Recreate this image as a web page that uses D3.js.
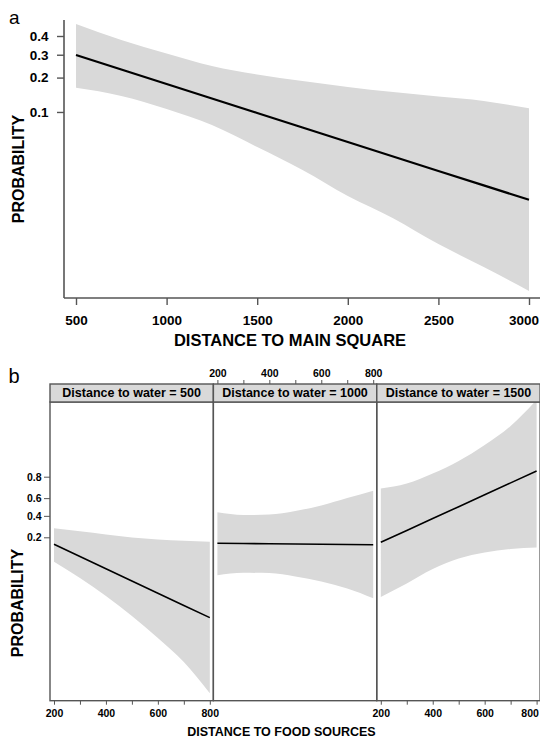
<!DOCTYPE html>
<html>
<head>
<meta charset="utf-8">
<script src="https://d3js.org/d3.v7.min.js"></script>
<style>
  body { margin: 0; background: #fff; font-family: "Liberation Sans", Arial, sans-serif; }
  .band { fill: #d9d9d9; stroke: none; }
  .fit { fill: none; stroke: #000; }
  .tick text { font-family: "Liberation Sans", Arial, sans-serif; font-weight: bold; fill: #000; }
  .tick line { stroke: #555; }
  .frame { fill: none; stroke: #555; stroke-width: 1.4; }
  .strip { fill: #d9d9d9; stroke: #555; stroke-width: 1.4; }
  .label { font-weight: bold; fill: #000; }
</style>
</head>
<body>
<script>
// ---- data (a): probability vs distance to main square
var distMain  = [500, 750, 1000, 1250, 1500, 1750, 2000, 2250, 2500, 2750, 3000];
var fitMain   = [0.299, 0.232, 0.177, 0.1325, 0.0979, 0.0716, 0.0519, 0.0374, 0.0269, 0.0193, 0.0138];
var lowerMain = [0.164, 0.1395, 0.1065, 0.0756, 0.0464, 0.0275, 0.0151, 0.0090, 0.0049, 0.00286, 0.00163];
var upperMain = [0.470, 0.378, 0.306, 0.247, 0.212, 0.1875, 0.167, 0.151, 0.138, 0.126, 0.108];
var ticksMainX = [500, 1000, 1500, 2000, 2500, 3000];
var ticksMainY = [0.1, 0.2, 0.3, 0.4];

// ---- data (b): probability vs distance to food sources, one panel per water distance
var distFood = [200, 300, 400, 500, 600, 700, 800];
var waterLevels = [500, 1000, 1500];
var fitFood = [
  [0.1536, 0.0941, 0.0558, 0.0327, 0.0190, 0.0109, 0.0063],
  [0.1596, 0.1584, 0.1566, 0.1554, 0.1541, 0.1524, 0.1512],
  [0.1658, 0.2552, 0.3714, 0.5034, 0.636, 0.7508, 0.8386]
];
var lowerFood = [
  [0.0757, 0.0374, 0.0168, 0.0068, 0.0025, 0.00083, 0.0002],
  [0.0420, 0.0469, 0.0465, 0.0399, 0.0320, 0.0234, 0.0151],
  [0.0160, 0.0293, 0.0553, 0.0865, 0.1109, 0.1276, 0.1354]
];
var upperFood = [
  [0.274, 0.2475, 0.2212, 0.1985, 0.1844, 0.1755, 0.1697],
  [0.4396, 0.4095, 0.4151, 0.4543, 0.5171, 0.6016, 0.6783],
  [0.700, 0.7457, 0.8224, 0.8914, 0.9447, 0.976, 0.9926]
];
var ticksFoodX = [200, 300, 400, 500, 600, 700, 800];
var labelsFoodX = [200, 400, 600, 800];
var ticksFoodY = [0.2, 0.4, 0.6, 0.8];

function logit(p) { return Math.log(p / (1 - p)); }

var W = 540;
var svg = d3.select("body").append("svg")
  .attr("width", W).attr("height", 738);

var axisColor = "#555";

// keep a tick label that would run past the right edge inside the picture
function pullInside(axisG) {
  axisG.selectAll(".tick text").each(function() {
    var t = d3.select(this), box = this.getBBox();
    var ctm = this.getCTM();
    var right = ctm.e + box.x + box.width;
    if (right > W - 1) {
      t.attr("x", (+t.attr("x") || 0) - (right - (W - 1)));
    }
  });
}

// ================= panel a =================
var xA = d3.scaleLinear().domain([500, 3000]).range([76, 529]);
var yA = d3.scaleLinear().domain([-6.585, -0.028]).range([298, 20]);

var gA = svg.append("g");

gA.append("path")
  .attr("class", "band")
  .attr("d", d3.area()
    .x(function(d, i) { return xA(distMain[i]); })
    .y0(function(d, i) { return yA(logit(lowerMain[i])); })
    .y1(function(d, i) { return yA(logit(upperMain[i])); })
    .curve(d3.curveMonotoneX)(distMain));

gA.append("path")
  .attr("class", "fit")
  .attr("stroke-width", 2.2)
  .attr("d", d3.line()
    .x(function(d, i) { return xA(distMain[i]); })
    .y(function(d, i) { return yA(logit(fitMain[i])); })(distMain));

// axis lines
gA.append("line").attr("x1", 64).attr("x2", 64).attr("y1", 20).attr("y2", 298)
  .attr("stroke", axisColor).attr("stroke-width", 1.6);
gA.append("line").attr("x1", 64).attr("x2", 540).attr("y1", 298).attr("y2", 298)
  .attr("stroke", axisColor).attr("stroke-width", 1.6);

var xAxisA = gA.append("g").attr("transform", "translate(0,298)")
  .call(d3.axisBottom(xA).tickValues(ticksMainX).tickSize(7).tickPadding(10)
    .tickFormat(d3.format("d")));
xAxisA.select(".domain").remove();
xAxisA.selectAll(".tick line").attr("stroke-width", 1.4);
xAxisA.selectAll(".tick text").style("font-size", "13.5px");
pullInside(xAxisA);

var yAxisA = gA.append("g").attr("transform", "translate(64,0)")
  .call(d3.axisLeft(yA).tickValues(ticksMainY.map(logit)).tickSize(7).tickPadding(8.5)
    .tickFormat(function(d, i) { return ticksMainY[i]; }));
yAxisA.select(".domain").remove();
yAxisA.selectAll(".tick line").attr("stroke-width", 1.4);
yAxisA.selectAll(".tick text").style("font-size", "13.5px");

svg.append("text").attr("x", 9).attr("y", 23.5).style("font-size", "19px").text("a");

svg.append("text").attr("class", "label")
  .attr("transform", "translate(24,169) rotate(-90)")
  .attr("text-anchor", "middle").style("font-size", "16px")
  .text("PROBABILITY");

svg.append("text").attr("class", "label")
  .attr("x", 290).attr("y", 346)
  .attr("text-anchor", "middle").style("font-size", "16.5px")
  .text("DISTANCE TO MAIN SQUARE");

// ================= panel b =================
var panelX = [50, 213.4, 376.8], panelW = 163.3;
var stripTop = 384, plotTop = 402, plotBottom = 700.7;
var yB = d3.scaleLinear().domain([-8.861, 4.803]).range([plotBottom, plotTop]);

waterLevels.forEach(function(w, k) {
  var x0 = panelX[k];
  var xB = d3.scaleLinear().domain([200, 800]).range([x0 + 4, x0 + 159.8]);
  var g = svg.append("g");

  g.append("clipPath").attr("id", "clip" + k)
    .append("rect").attr("x", x0).attr("y", plotTop)
    .attr("width", panelW).attr("height", plotBottom - plotTop);

  var inner = g.append("g").attr("clip-path", "url(#clip" + k + ")");

  inner.append("path")
    .attr("class", "band")
    .attr("d", d3.area()
      .x(function(d, i) { return xB(distFood[i]); })
      .y0(function(d, i) { return yB(logit(lowerFood[k][i])); })
      .y1(function(d, i) { return yB(logit(upperFood[k][i])); })
      .curve(d3.curveMonotoneX)(distFood));

  inner.append("path")
    .attr("class", "fit")
    .attr("stroke-width", 1.6)
    .attr("d", d3.line()
      .x(function(d, i) { return xB(distFood[i]); })
      .y(function(d, i) { return yB(logit(fitFood[k][i])); })(distFood));

  g.append("rect").attr("class", "frame")
    .attr("x", x0).attr("y", plotTop)
    .attr("width", panelW).attr("height", plotBottom - plotTop);

  g.append("rect").attr("class", "strip")
    .attr("x", x0).attr("y", stripTop)
    .attr("width", panelW).attr("height", plotTop - stripTop);

  g.append("text").attr("class", "label")
    .attr("x", x0 + panelW / 2).attr("y", 397)
    .attr("text-anchor", "middle").style("font-size", "12.5px")
    .text("Distance to water = " + w);

  // lattice style alternating x axes: bottom on 1st and 3rd, top on 2nd
  var fmt = function(d) { return labelsFoodX.indexOf(d) >= 0 ? d : ""; };
  var ax;
  if (k === 1) {
    ax = g.append("g").attr("transform", "translate(0," + stripTop + ")")
      .call(d3.axisTop(xB).tickValues(ticksFoodX).tickSize(4).tickPadding(3).tickFormat(fmt));
  } else {
    ax = g.append("g").attr("transform", "translate(0," + plotBottom + ")")
      .call(d3.axisBottom(xB).tickValues(ticksFoodX).tickSize(4).tickPadding(5).tickFormat(fmt));
  }
  ax.select(".domain").remove();
  ax.selectAll(".tick text").style("font-size", "10.5px");
  pullInside(ax);
});

var yAxisB = svg.append("g").attr("transform", "translate(50,0)")
  .call(d3.axisLeft(yB).tickValues(ticksFoodY.map(logit)).tickSize(6).tickPadding(2.5)
    .tickFormat(function(d, i) { return ticksFoodY[i]; }));
yAxisB.select(".domain").remove();
yAxisB.selectAll(".tick text").style("font-size", "10.5px");

svg.append("text").attr("x", 8.5).attr("y", 383).style("font-size", "20px").text("b");

svg.append("text").attr("class", "label")
  .attr("transform", "translate(23,603) rotate(-90)")
  .attr("text-anchor", "middle").style("font-size", "16px")
  .text("PROBABILITY");

svg.append("text").attr("class", "label")
  .attr("x", 281.5).attr("y", 735.5)
  .attr("text-anchor", "middle").style("font-size", "12.5px")
  .text("DISTANCE TO FOOD SOURCES");
</script>
</body>
</html>
